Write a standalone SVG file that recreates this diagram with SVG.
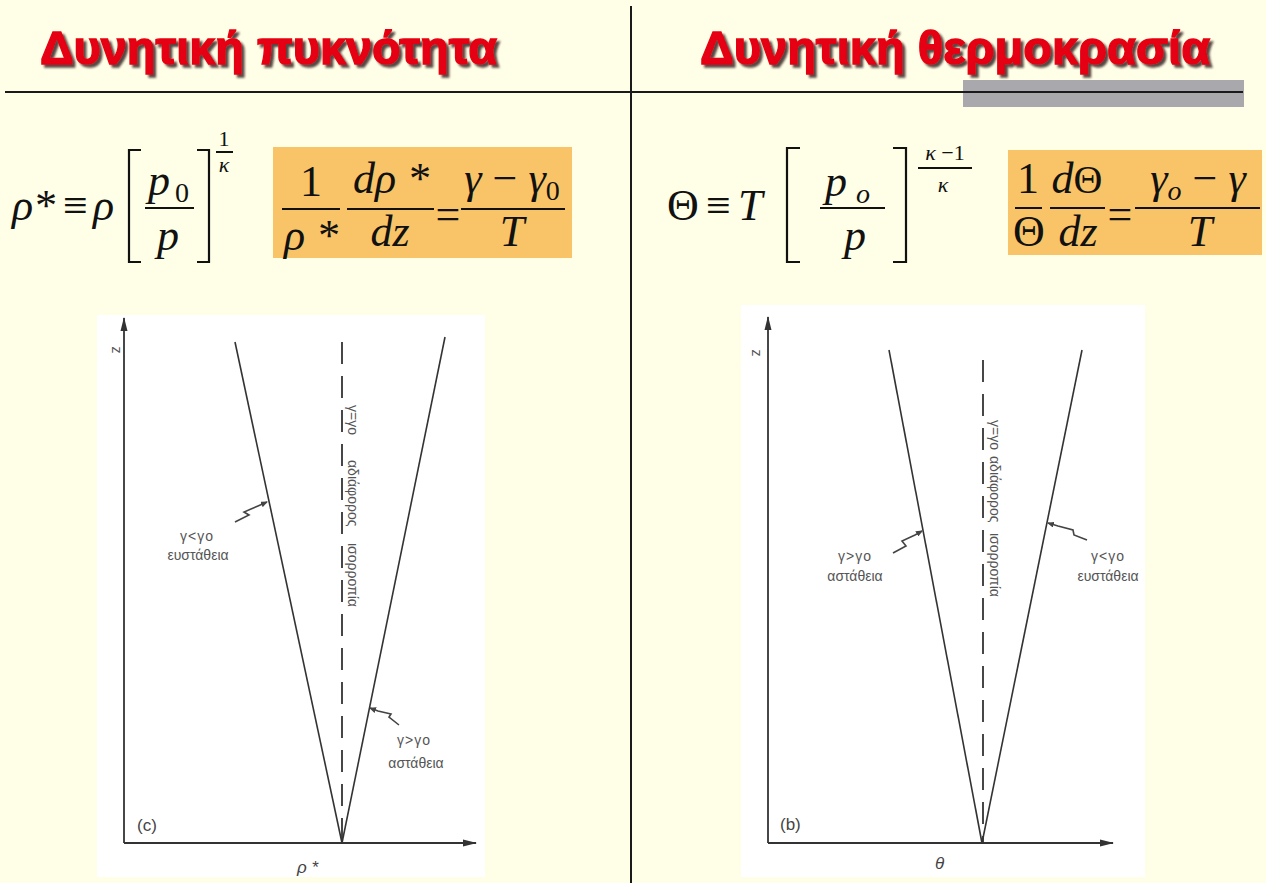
<svg xmlns="http://www.w3.org/2000/svg" width="1266" height="883" viewBox="0 0 1266 883">
<style>
.title{font-family:"Liberation Sans",Arial,sans-serif;font-weight:bold;font-size:46px;fill:#E60012;stroke:#E60012;stroke-width:1.3;filter:url(#shadow)}
.m{font-family:"Liberation Serif","Times New Roman",serif;font-size:44px;fill:#111}
.mi{font-style:italic}
.sub{font-size:28px}
.exp{font-size:22px}
.bar{stroke:#111;stroke-width:2;fill:none}
.br{stroke:#111;stroke-width:2.2;fill:none}
.ax{stroke:#333;stroke-width:1.8;fill:none}
.ln{stroke:#333;stroke-width:1.6;fill:none}
.dash{stroke:#333;stroke-width:1.8;fill:none;stroke-dasharray:22 12}
.sq{stroke:#444;stroke-width:1.6;fill:none}
.lbl{font-family:"Liberation Sans",Arial,sans-serif;font-size:14px;fill:#555}
.rot{font-family:"Liberation Sans",Arial,sans-serif;font-size:14px;fill:#555}
.plbl{font-family:"Liberation Sans",Arial,sans-serif;font-size:17px;fill:#444}
</style>
<defs>
<filter id="shadow" x="-5%" y="-20%" width="110%" height="150%">
<feDropShadow dx="3" dy="3" stdDeviation="1" flood-color="#2a1a1a" flood-opacity="0.8"/>
</filter>
<marker id="arr" markerWidth="14" markerHeight="8" refX="13" refY="4" orient="auto" markerUnits="userSpaceOnUse">
<path d="M0,0.5 L14,4 L0,7.5 Z" fill="#333"/>
</marker>
<marker id="sarr" markerWidth="7" markerHeight="6" refX="6" refY="3" orient="auto" markerUnits="userSpaceOnUse">
<path d="M0,0 L7,3 L0,6 Z" fill="#444"/>
</marker>
</defs>
<rect x="0" y="0" width="1266" height="883" fill="#FFFEE6"/>

<!-- header -->
<g id="header">
<rect x="963" y="80" width="281" height="27" fill="#A9A9AD"/>
<line x1="5" y1="92" x2="1243" y2="92" stroke="#1a1a1a" stroke-width="2.2"/>
<line x1="631" y1="6" x2="631" y2="883" stroke="#1a1a1a" stroke-width="2"/>
<text class="title" x="40" y="64" textLength="457" lengthAdjust="spacingAndGlyphs">Δυνητική πυκνότητα</text>
<text class="title" x="700" y="64" textLength="510" lengthAdjust="spacingAndGlyphs">Δυνητική θερμοκρασία</text>
</g>

<!-- left formulas -->
<g id="formula-left">
<text class="m mi" x="12" y="220">ρ*</text>
<text class="m" x="63" y="220" font-size="36">≡</text>
<text class="m mi" x="93" y="220">ρ</text>
<path class="br" d="M141,150 H129 V262 H141"/>
<path class="br" d="M197,150 H209 V262 H197"/>
<text class="m mi" x="148" y="195">p</text>
<text class="m sub" x="175" y="202">0</text>
<line class="bar" x1="145" y1="208" x2="194" y2="208"/>
<text class="m mi" x="157" y="250">p</text>
<text class="m exp" x="224" y="146" text-anchor="middle">1</text>
<line class="bar" x1="216" y1="152" x2="233" y2="152" stroke-width="1.4"/>
<text class="m exp mi" x="224" y="172" text-anchor="middle">κ</text>
</g>
<g id="formula-left-box">
<rect x="273" y="147" width="299" height="111" fill="#F9C468"/>
<text class="m" x="311" y="196" text-anchor="middle">1</text>
<line class="bar" x1="282" y1="209" x2="340" y2="209"/>
<text class="m mi" x="311" y="250" text-anchor="middle">ρ *</text>
<text class="m mi" x="391" y="193" text-anchor="middle">dρ *</text>
<line class="bar" x1="347" y1="209" x2="434" y2="209"/>
<text class="m mi" x="390" y="246" text-anchor="middle">dz</text>
<text class="m" x="448" y="229" text-anchor="middle" font-size="32">=</text>
<text class="m" x="512" y="193" text-anchor="middle"><tspan class="mi">γ</tspan> − <tspan class="mi">γ</tspan><tspan class="sub" dy="7">0</tspan></text>
<line class="bar" x1="461" y1="209" x2="565" y2="209"/>
<text class="m mi" x="512" y="246" text-anchor="middle">T</text>
</g>

<!-- right formulas -->
<g id="formula-right">
<text class="m" x="667" y="220" font-size="40">Θ</text>
<text class="m" x="706" y="220" font-size="36">≡</text>
<text class="m mi" x="738" y="220">T</text>
<path class="br" d="M800,148 H787 V262 H800"/>
<path class="br" d="M893,148 H906 V262 H893"/>
<text class="m mi" x="825" y="196">p</text>
<text class="m mi sub" x="856" y="203">o</text>
<line class="bar" x1="820" y1="208" x2="885" y2="208"/>
<text class="m mi" x="844" y="250">p</text>
<text class="m exp" x="945" y="160" text-anchor="middle"><tspan class="mi">κ</tspan> −1</text>
<line class="bar" x1="918" y1="168" x2="972" y2="168" stroke-width="1.4"/>
<text class="m exp mi" x="943" y="192" text-anchor="middle">κ</text>
</g>
<g id="formula-right-box">
<rect x="1008" y="150" width="254" height="105" fill="#F9C468"/>
<text class="m" x="1028" y="193" text-anchor="middle">1</text>
<line class="bar" x1="1015" y1="208" x2="1042" y2="208"/>
<text class="m" x="1029" y="246" text-anchor="middle" font-size="40">Θ</text>
<text class="m" x="1077" y="193" text-anchor="middle"><tspan class="mi">d</tspan><tspan font-size="40">Θ</tspan></text>
<line class="bar" x1="1050" y1="208" x2="1105" y2="208"/>
<text class="m mi" x="1078" y="246" text-anchor="middle">dz</text>
<text class="m" x="1120" y="229" text-anchor="middle" font-size="32">=</text>
<text class="m" x="1198" y="193" text-anchor="middle"><tspan class="mi">γ</tspan><tspan class="sub mi" dy="7">o</tspan><tspan dy="-7"> − </tspan><tspan class="mi">γ</tspan></text>
<line class="bar" x1="1135" y1="208" x2="1260" y2="208"/>
<text class="m mi" x="1200" y="246" text-anchor="middle">T</text>
</g>

<!-- left chart -->
<g id="chart-left">
<rect x="97" y="315" width="388" height="562" fill="#FFFFFF"/>
<text class="lbl" transform="translate(112,350) rotate(90)" text-anchor="middle">z</text>
<text class="plbl" x="137" y="831">(c)</text>
<text class="plbl" x="297" y="873" font-style="italic">ρ *</text>
<g transform="translate(348,405) rotate(90)">
<text class="rot" x="0" y="0">γ=γο</text>
<text class="rot" x="55" y="0">αδιάφορος</text>
<text class="rot" x="138" y="0">ισορροπία</text>
</g>
<text class="lbl" x="197" y="541" text-anchor="middle" letter-spacing="1">γ&lt;γο</text>
<text class="lbl" x="198" y="560" text-anchor="middle">ευστάθεια</text>
<text class="lbl" x="414" y="745" text-anchor="middle" letter-spacing="1">γ&gt;γο</text>
<text class="lbl" x="416" y="768" text-anchor="middle">αστάθεια</text>
</g>

<!-- right chart -->
<g id="chart-right">
<rect x="741" y="305" width="404" height="572" fill="#FFFFFF"/>
<text class="lbl" transform="translate(752,353) rotate(90)" text-anchor="middle">z</text>
<text class="plbl" x="780" y="830">(b)</text>
<text class="plbl" x="935" y="869" font-style="italic">θ</text>
<g transform="translate(990,420) rotate(90)">
<text class="rot" x="0" y="0">γ=γο</text>
<text class="rot" x="36" y="0">αδιάφορος</text>
<text class="rot" x="113" y="0">ισορροπία</text>
</g>
<text class="lbl" x="855" y="561" text-anchor="middle" letter-spacing="1">γ&gt;γο</text>
<text class="lbl" x="855" y="581" text-anchor="middle">αστάθεια</text>
<text class="lbl" x="1108" y="561" text-anchor="middle" letter-spacing="1">γ&lt;γο</text>
<text class="lbl" x="1108" y="581" text-anchor="middle">ευστάθεια</text>
</g>

<!-- connectors -->
<g id="connectors">
<line class="ax" x1="124" y1="843" x2="124" y2="318" marker-end="url(#arr)"/>
<line class="ax" x1="124" y1="843" x2="476" y2="843" marker-end="url(#arr)"/>
<line class="ln" x1="235" y1="342" x2="342" y2="843"/>
<line class="ln" x1="445" y1="337" x2="342" y2="843"/>
<line class="dash" x1="342" y1="342" x2="342" y2="843"/>
<path class="sq" d="M235,522 L249,515 L244,512 L258,506 L267,502" marker-end="url(#sarr)"/>
<path class="sq" d="M399,725 L389,717 L391,714 L378,711 L370,708" marker-end="url(#sarr)"/>

<line class="ax" x1="768" y1="843" x2="768" y2="317" marker-end="url(#arr)"/>
<line class="ax" x1="768" y1="843" x2="1113" y2="843" marker-end="url(#arr)"/>
<line class="ln" x1="889" y1="350" x2="982" y2="843"/>
<line class="ln" x1="1082" y1="350" x2="982" y2="843"/>
<line class="dash" x1="983" y1="360" x2="983" y2="843"/>
<path class="sq" d="M893,553 L906,546 L902,541 L915,535 L922,531" marker-end="url(#sarr)"/>
<path class="sq" d="M1087,540 L1074,535 L1073,530 L1058,526 L1048,523" marker-end="url(#sarr)"/>
</g>
</svg>
